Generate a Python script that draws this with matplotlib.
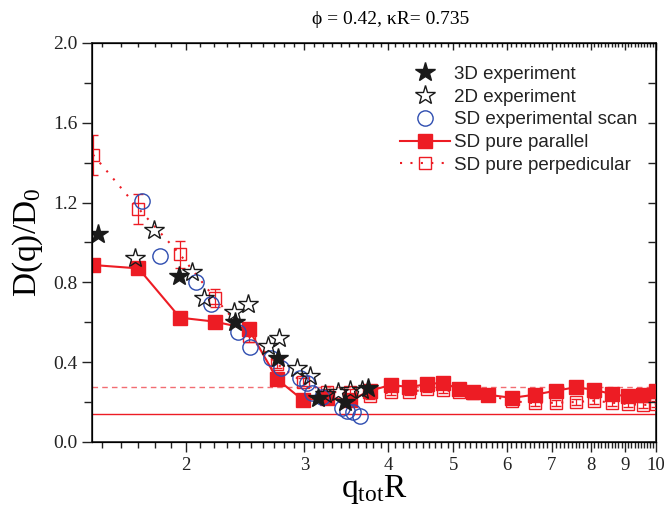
import numpy as np
import matplotlib
matplotlib.use('Agg')
import matplotlib.pyplot as plt
from matplotlib.ticker import FixedLocator, NullFormatter, FixedFormatter
from matplotlib.lines import Line2D

# ---------------- data ----------------
exp3d_x = [1.48, 1.95, 2.37, 2.74, 3.14, 3.45, 3.73]
exp3d_y = [1.04, 0.83, 0.60, 0.42, 0.22, 0.20, 0.27]

exp2d_x = [1.68, 1.79, 2.04, 2.13, 2.36, 2.47, 2.65, 2.75, 2.93, 3.06, 3.22, 3.37, 3.51, 3.65]
exp2d_y = [0.92, 1.06, 0.85, 0.72, 0.65, 0.69, 0.48, 0.52, 0.37, 0.33, 0.24, 0.25, 0.26, 0.26]

scan_x = [1.72, 1.83, 2.07, 2.18, 2.39, 2.49, 2.68, 2.77, 2.96, 3.03, 3.08, 3.19, 3.41, 3.47, 3.55, 3.63]
scan_y = [1.21, 0.93, 0.80, 0.69, 0.55, 0.475, 0.42, 0.37, 0.32, 0.295, 0.245, 0.225, 0.17, 0.157, 0.152, 0.132]

sd_x = [1.455, 1.70, 1.96, 2.21, 2.48, 2.735, 2.985, 3.245, 3.51, 3.76, 4.04, 4.30, 4.57,
        4.83, 5.09, 5.35, 5.62, 6.11, 6.61, 7.10, 7.60, 8.09, 8.60, 9.08, 9.56, 10.0]
par_y = [0.887, 0.87, 0.623, 0.603, 0.566, 0.314, 0.21, 0.219, 0.21, 0.256, 0.287, 0.274, 0.291,
         0.296, 0.266, 0.249, 0.237, 0.221, 0.237, 0.257, 0.274, 0.262, 0.24, 0.228, 0.233, 0.254]
perp_y = [1.44, 1.17, 0.94, 0.72, 0.53, 0.39, 0.30, 0.25, 0.25, 0.23, 0.25, 0.25, 0.265,
          0.26, 0.25, 0.245, 0.235, 0.205, 0.194, 0.197, 0.20, 0.207, 0.197, 0.19, 0.185, 0.189]
perp_err = [0.10, 0.075, 0.067, 0.045, 0.03, 0.02, 0.02, 0.015, 0.015, 0.015, 0.015, 0.015, 0.015,
            0.015, 0.015, 0.015, 0.015, 0.015, 0.015, 0.015, 0.015, 0.015, 0.015, 0.015, 0.015, 0.015]

hline_solid = 0.14
hline_dashed = 0.275

x_major = [2, 3, 4, 5, 6, 7, 8, 9, 10]
x_major_labels = ['2', '3', '4', '5', '6', '7', '8', '9', '10']
y_major = [0.0, 0.4, 0.8, 1.2, 1.6, 2.0]
y_major_labels = ['0.0', '0.4', '0.8', '1.2', '1.6', '2.0']

title = 'ϕ = 0.42, κR= 0.735'
labels = ['3D experiment', '2D experiment', 'SD experimental scan', 'SD pure parallel', 'SD pure perpedicular']

# ---------------- style ----------------
RED = '#ED1C24'
LRED = '#F26D72'
BLUE = '#2E4DB0'
BLACK = '#1A1A1A'
serif = ['Liberation Serif', 'DejaVu Serif']
sans = ['Liberation Sans', 'DejaVu Sans']
plt.rcParams['mathtext.fontset'] = 'custom'
plt.rcParams['mathtext.rm'] = 'Liberation Serif'
plt.rcParams['mathtext.it'] = 'Liberation Serif:italic'

fig = plt.figure(figsize=(6.64, 5.08), dpi=100)
ax = fig.add_axes([0.1386, 0.130, 0.849, 0.7854])
ax.set_xscale('log')
xlim = (1.45, 10.0)
ylim = (0.0, 2.0)

ax.axhline(hline_solid, color=RED, lw=1.0, zorder=1)
ax.axhline(hline_dashed, color=LRED, lw=1.0, ls=(0, (4, 3)), zorder=1)

ax.plot(sd_x, par_y, color=RED, lw=1.5, marker='s', ms=10, mfc=RED, mec=RED, zorder=3)
ax.errorbar(sd_x, perp_y, yerr=perp_err, color=RED, lw=1.5, ls=(0, (1, 4)), marker='s', ms=8,
            mfc='none', mec=RED, mew=1.0, elinewidth=0.9, capsize=3.5, capthick=0.9, zorder=4)
ax.plot(scan_x, scan_y, ls='none', marker='o', ms=11, mfc='none', mec=BLUE, mew=1.0, zorder=5)
ax.plot(exp2d_x, exp2d_y, ls='none', marker='*', ms=15, mfc='none', mec=BLACK, mew=1.0, zorder=6)
ax.plot(exp3d_x, exp3d_y, ls='none', marker='*', ms=15, mfc=BLACK, mec=BLACK, zorder=6)

ax.set_xlim(*xlim)
ax.set_ylim(*ylim)

x_minor = [v for v in np.round(np.arange(1.5, 10.0, 0.1), 2) if v not in x_major]

ax.xaxis.set_major_locator(FixedLocator(x_major))
ax.xaxis.set_major_formatter(FixedFormatter(x_major_labels))
ax.xaxis.set_minor_locator(FixedLocator(x_minor))
ax.xaxis.set_minor_formatter(NullFormatter())
ax.yaxis.set_major_locator(FixedLocator(y_major))
ax.yaxis.set_major_formatter(FixedFormatter(y_major_labels))
ax.yaxis.set_minor_locator(FixedLocator([0.2, 0.6, 1.0, 1.4, 1.8]))

ax.tick_params(which='both', direction='out', width=1.0, colors='#222222')
ax.tick_params(axis='y', labelsize=14)
ax.tick_params(axis='x', labelsize=13.5, pad=4)
ax.tick_params(which='major', length=7)
ax.tick_params(which='minor', length=4)
ax.tick_params(axis='y', which='minor', length=6)
for lab in ax.get_xticklabels() + ax.get_yticklabels():
    lab.set_family(serif)

for s in ax.spines.values():
    s.set_linewidth(1.2)
    s.set_color('#222222')

# top / right inward ticks
axt = ax.twiny()
axt.set_xscale('log')
axt.set_xlim(*xlim)
axt.xaxis.set_major_locator(FixedLocator(x_major))
axt.xaxis.set_minor_locator(FixedLocator(x_minor))
axt.xaxis.set_major_formatter(NullFormatter())
axt.xaxis.set_minor_formatter(NullFormatter())
axt.tick_params(which='both', direction='in', width=1.0, colors='#222222')
axt.tick_params(which='major', length=5)
axt.tick_params(which='minor', length=3)

axr = ax.twinx()
axr.set_ylim(*ylim)
axr.yaxis.set_major_locator(FixedLocator(y_major))
axr.yaxis.set_minor_locator(FixedLocator([0.2, 0.6, 1.0, 1.4, 1.8]))
axr.yaxis.set_major_formatter(NullFormatter())
axr.tick_params(which='both', direction='in', width=1.0, length=6, colors='#222222')

ax.set_ylabel(r'D(q)/D$_0$', fontsize=24, family=serif, labelpad=6)
ax.set_xlabel(r'q$_{\mathrm{tot}}$R', fontsize=24, family=serif, labelpad=-1)
fig.text(0.588, 0.962, title, ha='center', va='center', fontsize=14, family=serif)

handles = [
    Line2D([], [], ls='none', marker='*', ms=15, mfc=BLACK, mec=BLACK),
    Line2D([], [], ls='none', marker='*', ms=15, mfc='none', mec=BLACK, mew=1.0),
    Line2D([], [], ls='none', marker='o', ms=11, mfc='none', mec=BLUE, mew=1.0),
    Line2D([], [], color=RED, lw=1.5, marker='s', ms=10, mfc=RED, mec=RED),
    Line2D([], [], color=RED, lw=1.5, ls=(0, (1, 4)), marker='s', ms=8, mfc='none', mec=RED, mew=1.0),
]
leg = ax.legend(handles, labels, loc='upper left', bbox_to_anchor=(0.546, 0.943), frameon=False,
                prop={'family': sans, 'size': 13.5}, handlelength=2.67, handletextpad=0.2,
                labelspacing=0.3, borderaxespad=0, borderpad=0)
for t in leg.get_texts():
    t.set_color('#222222')

fig.savefig('out.png', dpi=100)
